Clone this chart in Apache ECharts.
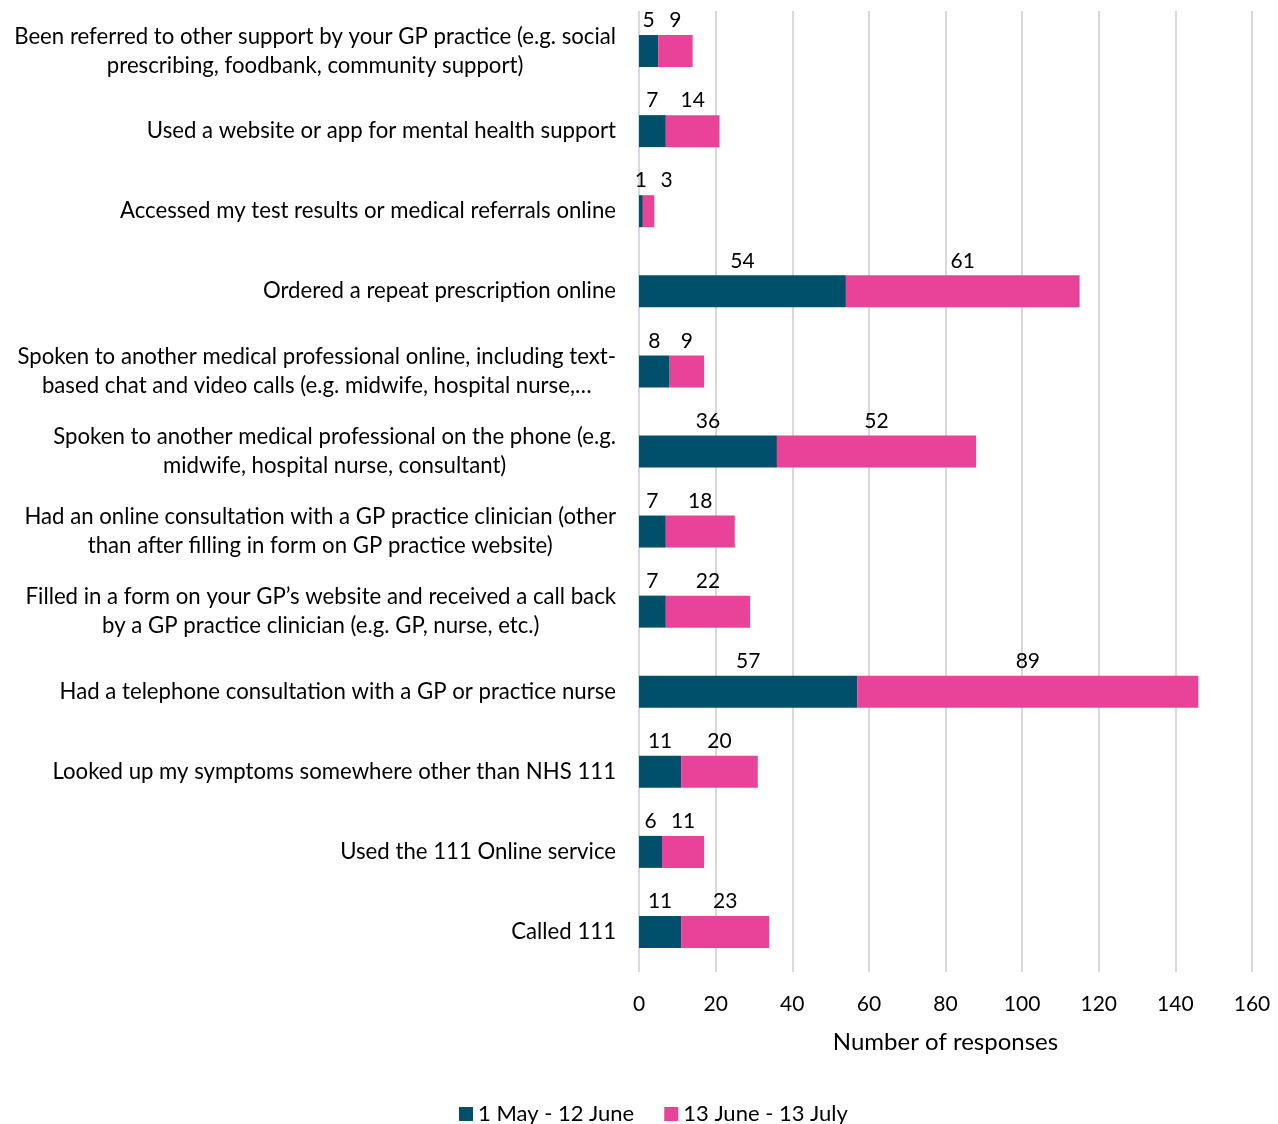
<!DOCTYPE html>
<html>
<head>
<meta charset="utf-8">
<script src="https://cdn.jsdelivr.net/npm/echarts@6/dist/echarts.min.js"></script>
<style>
html,body{margin:0;padding:0;background:#fff;}
#chart{width:1278px;height:1124px;}
</style>
</head>
<body>
<div id="chart"></div>
<script>
const categories = [
  "Been referred to other support by your GP practice (e.g. social\nprescribing, foodbank, community support)",
  "Used a website or app for mental health support",
  "Accessed my test results or medical referrals online",
  "Ordered a repeat prescription online",
  "Spoken to another medical professional online, including text-\nbased chat and video calls (e.g. midwife, hospital nurse,…",
  "Spoken to another medical professional on the phone (e.g.\nmidwife, hospital nurse, consultant)",
  "Had an online consultation with a GP practice clinician (other\nthan after filling in form on GP practice website)",
  "Filled in a form on your GP’s website and received a call back\nby a GP practice clinician (e.g. GP, nurse, etc.)",
  "Had a telephone consultation with a GP or practice nurse",
  "Looked up my symptoms somewhere other than NHS 111",
  "Used the 111 Online service",
  "Called 111"
];
const seriesNames = ["1 May - 12 June", "13 June - 13 July"];
const period1 = [5, 7, 1, 54, 8, 36, 7, 7, 57, 11, 6, 11];
const period2 = [9, 14, 3, 61, 9, 52, 18, 22, 89, 20, 11, 23];
const xTicks = [0, 20, 40, 60, 80, 100, 120, 140, 160];

const FONT = "Lato, 'Open Sans', sans-serif";
const chart = echarts.init(document.getElementById('chart'), null, {renderer: 'canvas'});

const labelStyle = {
  show: true, position: 'top', distance: 4,
  color: '#000', fontSize: 21, fontFamily: FONT
};

chart.setOption({
  animation: false,
  grid: {left: 639, right: 26, top: 11, bottom: 152, containLabel: false},
  legend: {
    bottom: -6, left: 454,
    itemWidth: 14, itemHeight: 14, itemGap: 30,
    icon: 'rect',
    textStyle: {fontSize: 22, fontFamily: FONT, color: '#000'},
    data: seriesNames
  },
  xAxis: {
    type: 'value',
    min: xTicks[0], max: xTicks[xTicks.length - 1], interval: 20,
    name: 'Number of responses',
    nameLocation: 'middle', nameGap: 58,
    nameTextStyle: {fontSize: 24, fontFamily: FONT, color: '#000'},
    axisLine: {show: false}, axisTick: {show: false},
    axisLabel: {fontSize: 21, fontFamily: FONT, color: '#000', margin: 22},
    splitLine: {show: true, lineStyle: {color: '#d9d9d9', width: 2}}
  },
  yAxis: {
    type: 'category', inverse: true, data: categories,
    axisLine: {show: false}, axisTick: {show: false},
    axisLabel: {
      margin: 23, align: 'right',
      formatter: function (v) {
        return v.split('\n').map(function (l) { return '{c|' + l + '}'; }).join('\n');
      },
      rich: {c: {align: 'center', fontSize: 22.2, lineHeight: 29, fontFamily: FONT, color: '#000'}}
    }
  },
  series: [
    {name: seriesNames[0], type: 'bar', stack: 'total', barWidth: 32,
     itemStyle: {color: '#00506B'}, label: labelStyle, data: period1},
    {name: seriesNames[1], type: 'bar', stack: 'total', barWidth: 32,
     itemStyle: {color: '#E84398'}, label: labelStyle, data: period2,
     labelLayout: function (p) {
       // push a label right when its segment is too narrow to keep it clear of its neighbour
       if (p.rect.width < p.labelRect.width + 10) { return {dx: 18}; }
       return {};
     }}
  ]
});
</script>
</body>
</html>
